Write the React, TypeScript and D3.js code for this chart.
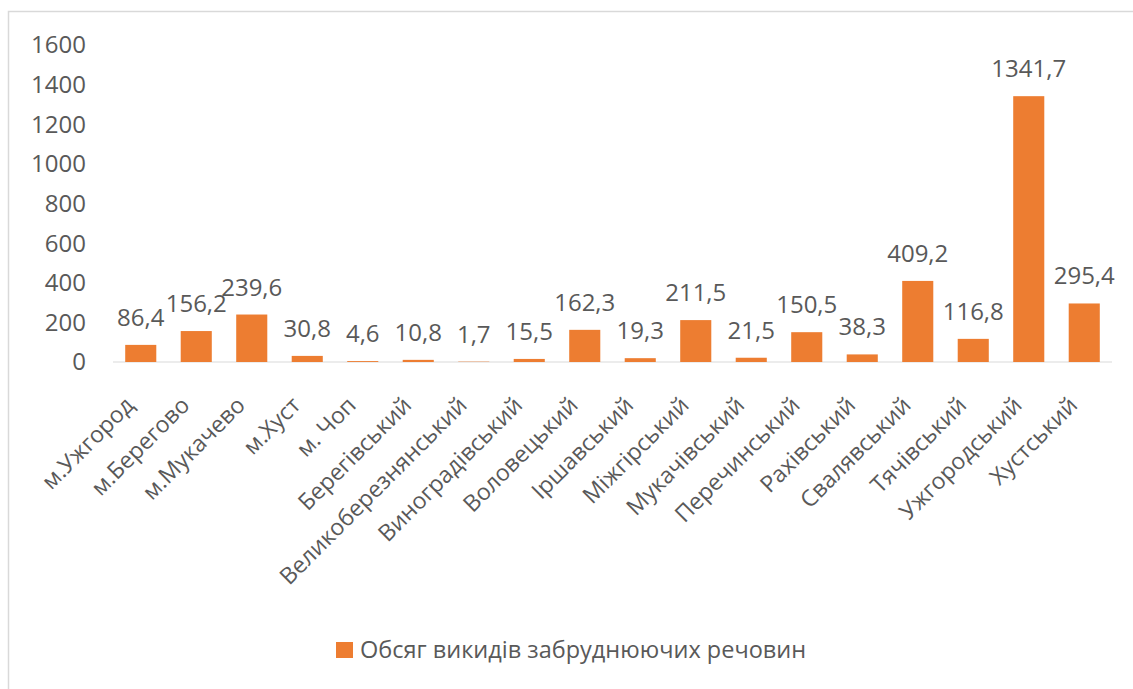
import React from "react";
import * as d3 from "d3";

const categories: string[] = [
  "м.Ужгород", "м.Берегово", "м.Мукачево", "м.Хуст", "м. Чоп",
  "Берегівський", "Великоберезнянський", "Виноградівський", "Воловецький",
  "Іршавський", "Міжгірський", "Мукачівський", "Перечинський", "Рахівський",
  "Свалявський", "Тячівський", "Ужгородський", "Хустський",
];
const values: number[] = [
  86.4, 156.2, 239.6, 30.8, 4.6, 10.8, 1.7, 15.5, 162.3, 19.3, 211.5, 21.5,
  150.5, 38.3, 409.2, 116.8, 1341.7, 295.4,
];
const yTicks: number[] = [0, 200, 400, 600, 800, 1000, 1200, 1400, 1600];
const seriesName = "Обсяг викидів забруднюючих речовин";

const W = 1133;
const H = 689;
const FONT = "'Open Sans', 'Noto Sans', sans-serif";
const TEXT = "#595959";
const BAR = "#ED7D31";

export default function App() {
  const x = d3.scaleBand<string>().domain(categories).range([113, 1112]).paddingInner(0.44).paddingOuter(0.22);
  const y = d3.scaleLinear().domain([0, 1600]).range([362, 45]);
  const fmt = (v: number) => String(v).replace(".", ",");

  return (
    <div style={{ position: "absolute", left: 0, top: 0 }}>
      <svg width={W} height={H} style={{ display: "block", background: "#fff" }}>
        <rect x={8.5} y={11.5} width={W + 10} height={H + 10} fill="#fff" stroke="#d9d9d9" strokeWidth={1.5} />
        {yTicks.map((t) => (
          <text key={t} x={86} y={y(t)} dy="0.35em" textAnchor="end" fontFamily={FONT} fontSize={24} fill={TEXT}>
            {t}
          </text>
        ))}
        <line x1={113} x2={1112} y1={y(0)} y2={y(0)} stroke="#d9d9d9" strokeWidth={1} />
        {categories.map((c, i) => {
          const bx = x(c)!;
          const bw = x.bandwidth();
          const v = values[i];
          return (
            <g key={c}>
              <rect x={bx} y={y(v)} width={bw} height={y(0) - y(v)} fill={BAR} />
              <text x={bx + bw / 2} y={y(v) - 19} textAnchor="middle" fontFamily={FONT} fontSize={24} fill={TEXT}>
                {fmt(v)}
              </text>
              <text
                transform={`translate(${bx + bw / 2 - 11},${y(0) + 39}) rotate(-45)`}
                textAnchor="end"
                dy="0.35em"
                fontFamily={FONT}
                fontSize={23}
                fill={TEXT}
              >
                {c}
              </text>
            </g>
          );
        })}
        <rect x={336} y={642} width={17} height={16} fill={BAR} />
        <text x={360} y={650} dy="0.35em" fontFamily={FONT} fontSize={23.5} fill={TEXT}>
          {seriesName}
        </text>
      </svg>
    </div>
  );
}
